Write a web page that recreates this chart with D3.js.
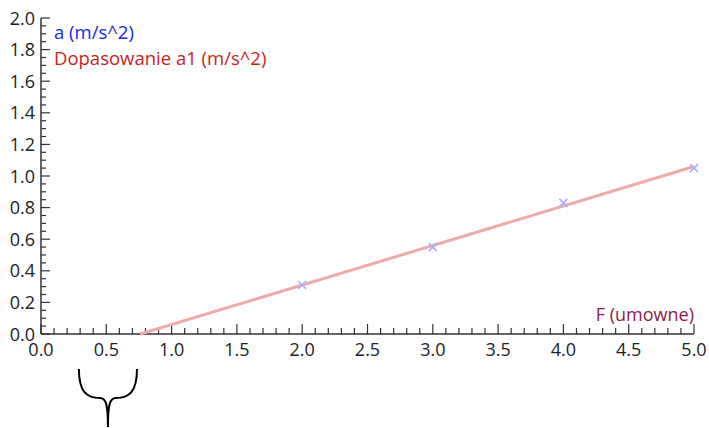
<!DOCTYPE html>
<html><head><meta charset="utf-8">
<script src="https://cdn.jsdelivr.net/npm/d3@7"></script>
<style>html,body{margin:0;padding:0;background:#fff;} svg{display:block;font-family:"Open Sans","Noto Sans",sans-serif;}</style>
</head><body>
<svg id="c" width="709" height="428"></svg>
<script>
const forceValues = [2, 3, 4, 5];
const accelValues = [0.31, 0.55, 0.83, 1.05];
const fitX = [0.76, 5.0];
const fitY = [0.0, 1.06];
const xTickLabels = ["0.0","0.5","1.0","1.5","2.0","2.5","3.0","3.5","4.0","4.5","5.0"];
const yTickLabels = ["0.0","0.2","0.4","0.6","0.8","1.0","1.2","1.4","1.6","1.8","2.0"];
const legendLabels = ["a (m/s^2)", "Dopasowanie a1 (m/s^2)"];
const xTitle = "F (umowne)";
const braceRange = [0.29, 0.735];

(function(){
const svg = d3.select("#c");
const x = d3.scaleLinear().domain([0, 5]).range([41, 694]);
const y = d3.scaleLinear().domain([0, 2]).range([334, 18]);
const axisColor = "#333";

const gx = svg.append("g").attr("transform", `translate(0,${y(0)})`);
gx.append("line").attr("x1", x(0)).attr("x2", x(5)).attr("stroke", axisColor).attr("stroke-width", 1.5);
d3.range(0, 51).forEach(i => {
  const v = i / 10;
  const major = i % 5 === 0;
  gx.append("line").attr("x1", x(v)).attr("x2", x(v)).attr("y1", 0).attr("y2", major ? -10 : -6)
    .attr("stroke", axisColor).attr("stroke-width", 1.2);
});
xTickLabels.forEach(t => {
  gx.append("text").attr("x", x(+t)).attr("y", 22).attr("text-anchor", "middle")
    .attr("font-size", 18).attr("fill", "#222").text(t);
});

const gy = svg.append("g").attr("transform", `translate(${x(0)},0)`);
gy.append("line").attr("y1", y(0)).attr("y2", y(2)).attr("stroke", axisColor).attr("stroke-width", 1.5);
d3.range(0, 41).forEach(i => {
  const v = i / 20;
  const major = i % 4 === 0;
  gy.append("line").attr("x1", 0).attr("x2", major ? 9 : 5).attr("y1", y(v)).attr("y2", y(v))
    .attr("stroke", axisColor).attr("stroke-width", 1.2);
});
yTickLabels.forEach(t => {
  gy.append("text").attr("x", -6).attr("y", y(+t) + 6.5).attr("text-anchor", "end")
    .attr("font-size", 18).attr("fill", "#222").text(t);
});

svg.append("path").datum(fitX.map((d, i) => [d, fitY[i]]))
  .attr("d", d3.line().x(d => x(d[0])).y(d => y(d[1])))
  .attr("stroke", "#eeaaaa").attr("stroke-width", 3).attr("fill", "none");

const s = 4;
svg.append("g").selectAll("path").data(forceValues.map((d, i) => [d, accelValues[i]])).join("path")
  .attr("d", d => `M${x(d[0])-s},${y(d[1])-s}L${x(d[0])+s},${y(d[1])+s}M${x(d[0])-s},${y(d[1])+s}L${x(d[0])+s},${y(d[1])-s}`)
  .attr("stroke", "#aaaaff").attr("stroke-width", 1.5).attr("fill", "none");

svg.append("text").attr("x", 54).attr("y", 39).attr("font-size", 18.5).attr("fill", "#2222ee").text(legendLabels[0]);
svg.append("text").attr("x", 54).attr("y", 65).attr("font-size", 18.5).attr("fill", "#cc2222").text(legendLabels[1]);

svg.append("text").attr("x", x(5)).attr("y", 321).attr("text-anchor", "end").attr("font-size", 18)
  .attr("fill", "#8b1a50").text(xTitle);

const bx0 = x(braceRange[0]), bx1 = x(braceRange[1]), bm = (bx0 + bx1) / 2;
const bTop = 369, bMid = 398, bBot = 427;
svg.append("path")
  .attr("d", `M${bx0},${bTop} C${bx0},${bMid-6} ${bx0+8},${bMid} ${bm-8},${bMid} C${bm-2},${bMid} ${bm},${bMid+6} ${bm},${bBot}
              M${bx1},${bTop} C${bx1},${bMid-6} ${bx1-8},${bMid} ${bm+8},${bMid} C${bm+2},${bMid} ${bm},${bMid+6} ${bm},${bBot}`)
  .attr("stroke", "#000").attr("stroke-width", 2).attr("fill", "none");
})();
</script>
</body></html>
